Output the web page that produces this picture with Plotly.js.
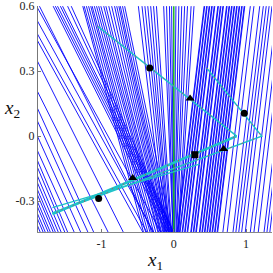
<!DOCTYPE html>
<html><head><meta charset="utf-8">
<script src="https://cdn.plot.ly/plotly-3.0.1.min.js"></script>
<style>html,body{margin:0;padding:0;background:#fff}#chart{width:273px;height:273px}</style>
</head><body><div id="chart"></div>
<script>
const yTop = 0.6, yBottom = -0.443;
// blue trajectories left of x1=0 : x at top edge, x at bottom edge
const leftTopX = [-1.90,-2.00,-2.10,-2.15,-2.27,-2.48,-2.53,-2.61,-2.70,-2.79,
 -2.79,-2.83,-2.88,-2.92,-2.96,-2.99,-3.03,-3.06,-3.10,-3.13,-3.17,
 -1.86,-1.67,-1.64,-1.61,-1.57,-1.54,-1.47,-1.42,
 -1.26,-1.24,-1.21,-1.18,-1.15,-1.13,-1.10,-1.07,-1.04,-1.01,-0.97,-0.94,-0.90,-0.86,-0.82,-0.79,-0.76,-0.74,-0.71,-0.68,
 -0.49,-0.44,-0.40,-0.36,-0.32,-0.28,-0.24,
 -0.14,-0.10,-0.06,-0.03];
const leftBottomX = [-0.18,-0.28,-0.375,-0.43,-0.70,-0.91,-1.11,-1.19,-1.29,-1.38,
 -1.47,-1.51,-1.56,-1.60,-1.64,-1.67,-1.71,-1.74,-1.78,-1.81,-1.85,
 -0.29,-0.10,-0.07,-0.04,-0.03,-0.01,-0.01,0,
 -0.42,-0.39,-0.36,-0.33,-0.31,-0.28,-0.25,-0.22,-0.21,-0.19,-0.18,-0.17,-0.15,-0.14,-0.13,-0.11,-0.10,-0.08,-0.06,-0.03,
 -0.125,-0.10,-0.08,-0.07,-0.06,-0.04,-0.03,
 -0.01,-0.01,0,0];
// blue trajectories right of x1=0
const rightTopX = [0.03,0.07,0.11,0.15,0.19,0.24,0.28,
 0.42,0.428,0.455,0.463,0.49,0.498,0.525,0.533,0.56,0.568,
 0.61,0.618,0.645,0.653,0.68,0.688,
 0.73,0.738,0.765,0.773,0.80,0.808,0.835,0.843,0.87,0.878,0.905,0.913,0.94,0.948,0.975,0.983,
 1.06,1.11,
 1.19,1.24,1.28,1.32,1.36,
 1.43,1.49,1.54,1.63,1.67,1.71];
const rightBottomX = [0,0.01,0.01,0.03,0.04,0.06,0.07,
 0.045,0.053,0.08,0.088,0.115,0.123,0.15,0.158,0.185,0.193,
 0.235,0.243,0.27,0.278,0.305,0.313,
 0.355,0.363,0.39,0.398,0.425,0.433,0.46,0.468,0.495,0.503,0.53,0.538,0.565,0.573,0.60,0.608,
 0.68,0.74,
 0.82,0.86,0.90,0.94,0.99,
 1.06,1.11,1.17,1.25,1.29,1.33];
// cyan closed-loop trajectories (start, turning point, end)
const traj1X = [-1.056, 0.871, -1.68], traj1Y = [0.508, 0.0, -0.36];
const traj2X = [0.454, 1.218, -1.68], traj2Y = [0.315, 0.0, -0.355];
const traj3X = [0.357, -1.68], traj3Y = [-0.13, -0.33];
// markers
const circleX = [-0.333, 0.976, -1.04], circleY = [0.315, 0.105, -0.288];
const triX = [0.226, 0.69, -0.569], triY = [0.174, -0.06, -0.194];
const squareX = [0.292], squareY = [-0.086];
// ticks
const xTicks = [-1, 0, 1], xTickText = ['-1', '0', '1'];
const yTicks = [-0.3, 0, 0.3, 0.6], yTickText = ['-0.3', '0', '0.3', '0.6'];

function family(tops, bottoms) {
  const x = [], y = [];
  for (let i = 0; i < tops.length; i++) {
    x.push(tops[i], bottoms[i], null);
    y.push(yTop, yBottom, null);
  }
  return {x, y};
}
const L = family(leftTopX, leftBottomX), R = family(rightTopX, rightBottomX);
const blue = {color: 'rgb(0,0,255)', width: 0.9};
const cyan = '#1fc2c8';
const red = {color: '#e03030', width: 1, dash: '1px,11px'};
const serif = 'Liberation Serif';
const traces = [
  {x: L.x, y: L.y, mode: 'lines', line: blue, hoverinfo: 'skip'},
  {x: R.x, y: R.y, mode: 'lines', line: blue, hoverinfo: 'skip'},
  {x: [0, 0], y: [yBottom, yTop], mode: 'lines', line: {color: '#1fb81f', width: 1.5}},
  {x: traj3X, y: traj3Y, mode: 'lines', line: {color: cyan, width: 1.3}},
  {x: traj2X, y: traj2Y, mode: 'lines', line: {color: cyan, width: 1.5}},
  {x: traj1X.slice(0, 2), y: traj1Y.slice(0, 2), mode: 'lines', line: {color: cyan, width: 1.5}},
  {x: traj1X.slice(1), y: traj1Y.slice(1), mode: 'lines', line: {color: cyan, width: 2.6}},
  {x: traj1X, y: traj1Y, mode: 'lines', line: red},
  {x: traj2X, y: traj2Y, mode: 'lines', line: red},
  {x: circleX, y: circleY, mode: 'markers', marker: {symbol: 'circle', size: 7, color: 'black'}},
  {x: triX, y: triY, mode: 'markers', marker: {symbol: 'triangle-up', size: 8, color: 'black'}},
  {x: squareX, y: squareY, mode: 'markers', marker: {symbol: 'square', size: 7, color: 'black'}}
];
const tickFont = {family: serif, size: 12, color: '#222'};
const layout = {
  width: 273, height: 273,
  margin: {l: 38, r: 1, t: 6, b: 41, pad: 0},
  paper_bgcolor: 'white', plot_bgcolor: 'white',
  showlegend: false,
  font: {family: serif},
  xaxis: {range: [-1.88, 1.36], tickmode: 'array', tickvals: xTicks, ticktext: xTickText,
    ticks: 'inside', ticklen: 3, tickcolor: '#777', showgrid: false, zeroline: false,
    showline: true, linecolor: '#888', linewidth: 1.2, tickfont: tickFont, fixedrange: true,
    ticklabeloverflow: 'allow'},
  yaxis: {range: [yBottom, 0.6008], tickmode: 'array', tickvals: yTicks, ticktext: yTickText,
    ticks: 'inside', ticklen: 3, tickcolor: '#777', showgrid: false, zeroline: false,
    showline: true, linecolor: '#777', linewidth: 1.2, tickfont: tickFont, fixedrange: true,
    ticklabeloverflow: 'allow'},
  annotations: [
    {xref: 'paper', yref: 'paper', x: 0.5, y: -0.128, xanchor: 'center', yanchor: 'middle',
     text: '<i>x</i><sub>1</sub>', showarrow: false,
     font: {family: serif, size: 19, color: '#111'}},
    {xref: 'paper', yref: 'paper', x: -0.111, y: 0.544, xanchor: 'center', yanchor: 'middle',
     text: '<i>x</i><sub>2</sub>', showarrow: false,
     font: {family: serif, size: 19, color: '#111'}}
  ]
};
Plotly.newPlot('chart', traces, layout, {staticPlot: true, displayModeBar: false});
</script>
</body></html>
